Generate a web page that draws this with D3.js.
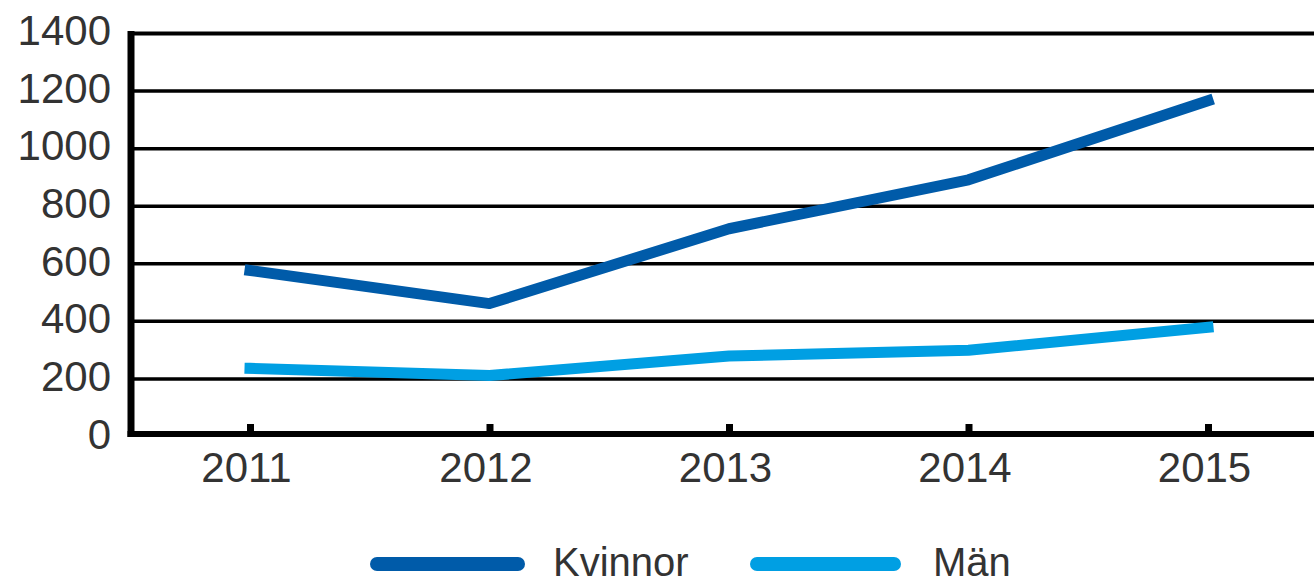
<!DOCTYPE html>
<html>
<head>
<meta charset="utf-8">
<script src="https://cdn.jsdelivr.net/npm/d3@7"></script>
<style>
  html, body { margin: 0; padding: 0; background: #fff; }
  svg { display: block; font-family: "Liberation Sans", Arial, sans-serif; }
</style>
</head>
<body>
<div id="chart"></div>
<script>
// data
const years = ["2011", "2012", "2013", "2014", "2015"];
const kvinnor = [575, 460, 720, 890, 1165];
const man = [235, 210, 278, 298, 378];
const yTicks = [0, 200, 400, 600, 800, 1000, 1200, 1400];
const seriesNames = ["Kvinnor", "Män"];
const seriesColors = ["#005ba9", "#009fe3"];

const W = 1314, H = 578;
const axisX = 131;

const svg = d3.select("#chart").append("svg")
    .attr("width", W)
    .attr("height", H);

const x = d3.scalePoint()
    .domain(years)
    .range([250, 1208]);

const y = d3.scaleLinear()
    .domain([0, 1400])
    .range([436, 33]);

// gridlines + y labels
const yAxis = svg.append("g")
    .attr("transform", `translate(${axisX},0)`)
    .call(d3.axisLeft(y)
        .tickValues(yTicks.slice(1))
        .tickSizeInner(-(W - axisX))
        .tickSizeOuter(0)
        .tickPadding(20)
        .tickFormat(d => d));
yAxis.select(".domain").remove();
yAxis.selectAll(".tick line")
    .attr("stroke", "#000")
    .attr("stroke-width", d => d === 1400 ? 4 : 3.5);
yAxis.selectAll(".tick text")
    .attr("fill", "#333")
    .attr("font-size", 42)
    .attr("dy", "0.28em");

// zero label (its gridline is hidden under the x axis)
svg.append("text")
    .attr("x", axisX - 20)
    .attr("y", y(0))
    .attr("dy", "0.3em")
    .attr("text-anchor", "end")
    .attr("font-size", 42)
    .attr("fill", "#333")
    .text(yTicks[0]);

// x axis: ticks point upward into the plot
const xAxis = svg.append("g")
    .attr("transform", "translate(0,431)")
    .call(d3.axisBottom(x)
        .tickSizeInner(-7)
        .tickSizeOuter(0)
        .tickPadding(21));
xAxis.select(".domain").remove();
xAxis.selectAll(".tick line")
    .attr("stroke", "#000")
    .attr("stroke-width", 7);
xAxis.selectAll(".tick text")
    .attr("fill", "#333")
    .attr("font-size", 42)
    .attr("dx", "-4");

// axis lines
svg.append("line")
    .attr("x1", axisX).attr("x2", axisX)
    .attr("y1", 31).attr("y2", 437)
    .attr("stroke", "#000")
    .attr("stroke-width", 7);
svg.append("line")
    .attr("x1", axisX - 3.5).attr("x2", W)
    .attr("y1", 434).attr("y2", 434)
    .attr("stroke", "#000")
    .attr("stroke-width", 6);

// lines
const line = d3.line()
    .x((d, i) => x(years[i]))
    .y(d => y(d));

[kvinnor, man].forEach((vals, i) => {
    svg.append("path")
        .datum(vals)
        .attr("fill", "none")
        .attr("stroke", seriesColors[i])
        .attr("stroke-width", 11)
        .attr("stroke-linejoin", "round")
        .attr("stroke-linecap", "square")
        .attr("d", line);
});

// legend
const legend = svg.append("g");
const legendItems = [
    { x1: 377, x2: 518, tx: 553 },
    { x1: 757, x2: 894, tx: 933 }
];
legendItems.forEach((it, i) => {
    legend.append("line")
        .attr("x1", it.x1).attr("x2", it.x2)
        .attr("y1", 564).attr("y2", 564)
        .attr("stroke", seriesColors[i])
        .attr("stroke-width", 14)
        .attr("stroke-linecap", "round");
    legend.append("text")
        .attr("x", it.tx)
        .attr("y", 576)
        .attr("font-size", 40)
        .attr("fill", "#333")
        .text(seriesNames[i]);
});
</script>
</body>
</html>
